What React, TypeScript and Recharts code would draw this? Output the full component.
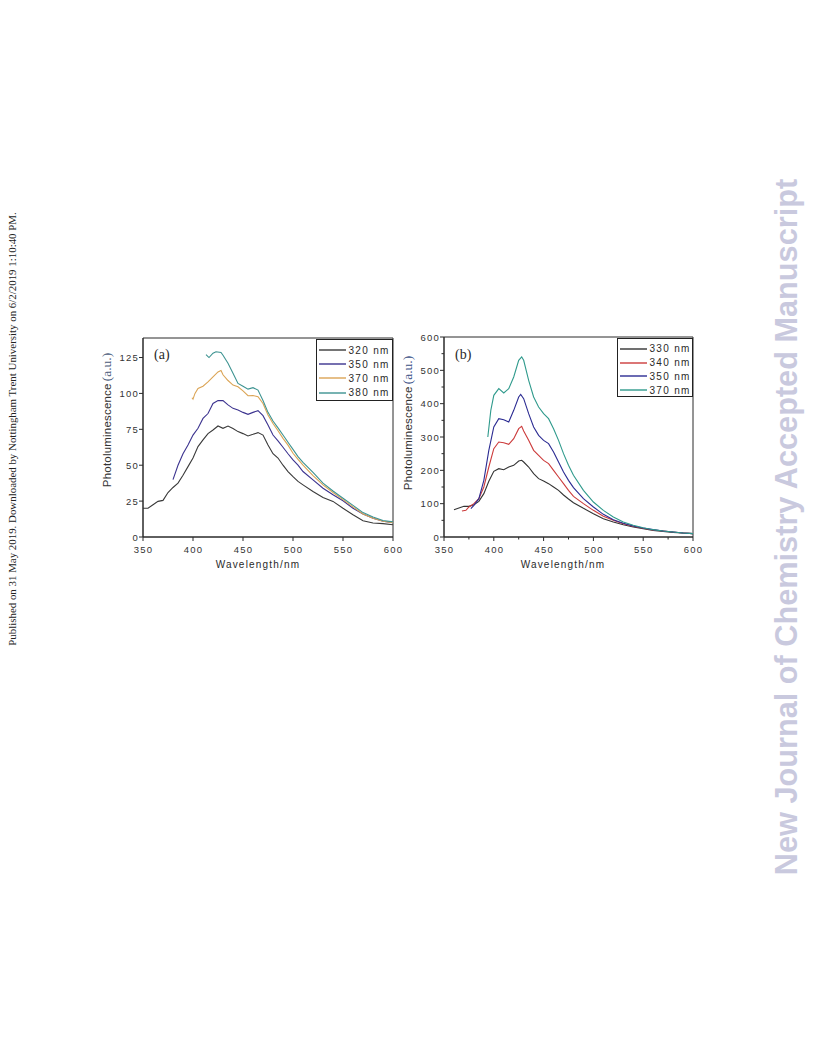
import React from "react";
import { LineChart, Line, XAxis, YAxis, ReferenceArea } from "recharts";

type Pt = [number, number];

// panel (a) – excitation 320/350/370/380 nm
const a320: Pt[] = [
  [350, 20], [355, 20], [360, 22.5], [365, 24.8], [370, 25.5], [375, 31], [380, 34.5], [385, 37.5],
  [390, 43], [395, 49], [400, 55], [405, 63], [410, 67.6], [415, 72], [420, 74.5], [425, 77.3],
  [430, 75.7], [435, 77.3], [440, 75.5], [445, 73.4], [450, 72], [455, 70.4], [460, 71.5], [465, 72.7],
  [470, 71], [475, 64], [480, 58], [485, 55], [490, 50], [495, 45.6], [500, 42], [505, 38.7],
  [510, 36.3], [520, 31.7], [530, 27.5], [540, 24.8], [550, 20], [560, 15.5], [570, 11.3],
  [580, 9.7], [590, 9.3], [600, 8.5],
];
const a350: Pt[] = [
  [380, 40], [385, 50], [390, 58], [395, 64], [400, 71], [405, 75.7], [410, 82.6], [415, 86],
  [420, 93], [425, 95], [430, 95], [435, 92], [440, 89.6], [445, 88.5], [450, 86.8], [455, 85.4],
  [460, 86.8], [465, 88], [470, 84.5], [475, 78], [480, 71], [485, 67], [490, 62.5], [495, 58],
  [500, 53.7], [505, 50], [510, 45.6], [520, 39.8], [530, 34], [540, 29.4], [550, 25.2], [560, 20],
  [570, 16], [580, 13], [590, 11], [600, 10],
];
const a370: Pt[] = [
  [399, 97], [400, 96], [402, 100], [405, 103.5], [410, 105], [415, 108], [420, 111.6], [425, 115],
  [428, 116], [430, 113], [435, 109], [440, 105.8], [445, 104.6], [450, 101.8], [455, 98.4],
  [460, 98.5], [465, 97.7], [470, 93], [475, 85], [480, 79], [485, 74], [490, 68.7], [495, 64],
  [500, 58.3], [505, 54], [510, 50], [520, 42.8], [530, 36.3], [540, 31], [550, 26], [560, 21],
  [570, 16], [580, 13], [590, 11], [600, 10],
];
const a380: Pt[] = [
  [413, 127], [416, 125], [420, 128], [423, 129], [428, 128.5], [430, 126.6], [435, 121], [440, 114],
  [445, 107], [450, 105], [455, 103], [460, 104], [465, 102.3], [470, 95], [475, 86.8], [480, 80.8],
  [485, 76], [490, 71], [495, 66], [500, 61], [505, 56], [510, 52], [520, 45], [530, 37.5],
  [540, 32], [550, 27], [560, 22], [570, 17], [580, 14], [590, 11.5], [600, 10.5],
];

// panel (b) – excitation 330/340/350/370 nm
const b330: Pt[] = [
  [360, 82], [365, 87], [370, 92], [375, 92], [380, 97], [385, 107], [390, 130], [395, 167],
  [400, 197], [405, 205], [410, 202], [415, 210], [420, 215], [425, 228], [428, 230], [430, 225],
  [435, 210], [440, 190], [445, 175], [450, 168], [455, 160], [460, 150], [465, 140], [470, 126],
  [475, 114], [480, 103], [490, 86], [500, 70], [510, 55], [520, 45], [530, 37], [540, 30],
  [550, 25], [560, 20], [570, 17], [580, 14], [590, 12], [600, 10],
];
const b340: Pt[] = [
  [368, 78], [372, 80], [375, 90], [380, 100], [385, 115], [390, 150], [395, 210], [400, 265],
  [405, 285], [410, 283], [415, 278], [420, 295], [425, 325], [428, 332], [430, 318], [435, 290],
  [440, 260], [445, 245], [450, 230], [455, 220], [460, 200], [465, 180], [470, 160], [475, 140],
  [480, 122], [490, 100], [500, 80], [510, 62], [520, 50], [530, 40], [540, 32], [550, 26],
  [560, 21], [570, 18], [580, 15], [590, 12], [600, 10],
];
const b350: Pt[] = [
  [377, 85], [380, 95], [385, 115], [390, 170], [395, 260], [400, 330], [405, 355], [410, 352],
  [415, 345], [420, 380], [425, 420], [427, 428], [430, 415], [435, 370], [440, 330], [445, 305],
  [450, 290], [455, 280], [460, 255], [465, 225], [470, 195], [475, 170], [480, 148], [490, 115],
  [500, 90], [510, 68], [520, 52], [530, 41], [540, 33], [550, 27], [560, 22], [570, 18],
  [580, 15], [590, 12], [600, 10],
];
const b370: Pt[] = [
  [394, 300], [397, 380], [400, 425], [405, 445], [410, 432], [413, 440], [415, 445], [420, 480],
  [425, 530], [428, 540], [430, 530], [435, 470], [440, 420], [445, 390], [450, 370], [455, 355],
  [460, 325], [465, 290], [470, 250], [475, 215], [480, 185], [490, 140], [500, 105], [510, 80],
  [520, 60], [530, 45], [540, 35], [550, 28], [560, 22], [570, 18], [580, 15], [590, 12], [600, 10],
];

const xLabels = [350, 400, 450, 500, 550, 600];
const bXTicks = [350, 375, 400, 425, 450, 475, 500, 525, 550, 575, 600];
const aYTicks = [0, 25, 50, 75, 100, 125];
const bYTicks = [0, 50, 100, 150, 200, 250, 300, 350, 400, 450, 500, 550, 600];
const bYLabels = [0, 100, 200, 300, 400, 500, 600];

const aLegend = ["320 nm", "350 nm", "370 nm", "380 nm"];
const bLegend = ["330 nm", "340 nm", "350 nm", "370 nm"];

const aColors = ["#3a3a3a", "#3c338f", "#dba455", "#3d9391"];
const bColors = ["#333333", "#cc3b3b", "#2b2b92", "#2f9a8c"];

const sans = "'Liberation Sans', Arial, sans-serif";
const serif = "'Liberation Serif', 'Times New Roman', serif";
const ink = "#2a2a2a";
const LS = 1.2;

const toRows = (pts: Pt[]) => pts.map(([x, y]) => ({ x, y }));

function XTick(props: any) {
  const { x, y, payload } = props;
  const major = xLabels.includes(payload.value);
  return (
    <g>
      <line x1={x} y1={y} x2={x} y2={y + (major ? 4 : 2.5)} stroke={ink} />
      {major && (
        <text x={x + LS / 2} y={y + 16} textAnchor="middle" fontSize={9.5} fontFamily={sans} fill="#333" letterSpacing={LS}>
          {payload.value}
        </text>
      )}
    </g>
  );
}

function makeYTick(labels: number[]) {
  return (props: any) => {
    const { x, y, payload } = props;
    const major = labels.includes(payload.value);
    return (
      <g>
        <line x1={x} y1={y} x2={x - (major ? 4 : 2.5)} y2={y} stroke={ink} />
        {major && (
          <text x={x - 4} y={y + 3.5} textAnchor="end" fontSize={9.5} fontFamily={sans} fill="#333" letterSpacing={LS}>
            {payload.value}
          </text>
        )}
      </g>
    );
  };
}

function LegendBox({ left, top, w, h, names, colors, rowH }: any) {
  return (
    <div
      style={{
        position: "absolute", left, top, width: w, height: h, border: "1px solid #222",
        background: "#fff", boxSizing: "border-box", paddingTop: 3,
      }}
    >
      {names.map((n: string, i: number) => (
        <div key={n} style={{ display: "flex", alignItems: "center", height: rowH }}>
          <svg width={30} height={4} style={{ display: "block" }}>
            <line x1={2} y1={2} x2={29} y2={2} stroke={colors[i]} strokeWidth={1.4} />
          </svg>
          <span style={{ marginLeft: 2, fontFamily: sans, fontSize: 10, color: ink, letterSpacing: 1.3 }}>{n}</span>
        </div>
      ))}
    </div>
  );
}

function YTitle({ cx, cy, blue }: { cx: number; cy: number; blue?: boolean }) {
  return (
    <div
      style={{
        position: "absolute", left: cx - 100, top: cy - 9, width: 200, height: 18, textAlign: "center",
        transform: "rotate(-90deg)", whiteSpace: "nowrap", lineHeight: "18px",
      }}
    >
      <span style={{ fontFamily: sans, fontSize: 11.5, color: "#333", letterSpacing: 0.2 }}>Photoluminescence</span>
      <span style={{ fontFamily: serif, fontSize: 13.5, color: blue ? "#3a4f86" : "#4a5a7a", marginLeft: 2 }}>(a.u.)</span>
    </div>
  );
}

function XTitle({ cx, top }: { cx: number; top: number }) {
  return (
    <div
      style={{
        position: "absolute", left: cx - 80, top, width: 160, textAlign: "center",
        fontFamily: sans, fontSize: 10, color: ink, letterSpacing: 1.2, lineHeight: "12px",
      }}
    >
      Wavelength/nm
    </div>
  );
}

export default function App() {
  const aSeries = [a320, a350, a370, a380];
  const bSeries = [b330, b340, b350, b370];
  return (
    <div style={{ position: "absolute", left: 0, top: 0, width: 816, height: 1056, background: "#fff", overflow: "hidden" }}>
      {/* left side stamp */}
      <div
        style={{
          position: "absolute", left: 12 - 250, top: 429 - 7, width: 500, height: 14, textAlign: "center",
          transform: "rotate(-90deg)", fontFamily: serif, fontSize: 10.9, color: "#222", whiteSpace: "nowrap", lineHeight: "14px",
        }}
      >
        Published on 31 May 2019. Downloaded by Nottingham Trent University on 6/2/2019 1:10:40 PM.
      </div>
      {/* right side watermark */}
      <div
        style={{
          position: "absolute", left: 787 - 400, top: 527 - 18, width: 800, height: 36, textAlign: "center",
          transform: "rotate(-90deg)", fontFamily: sans, fontWeight: "bold", fontSize: 30.7, color: "#c9c9de",
          whiteSpace: "nowrap", lineHeight: "36px",
        }}
      >
        New Journal of Chemistry Accepted Manuscript
      </div>

      {/* panel (a) */}
      <div style={{ position: "absolute", left: 95, top: 320 }}>
        <LineChart width={310} height={270} margin={{ top: 18, right: 12, bottom: 23, left: 8 }}>
          <XAxis
            type="number" dataKey="x" domain={[350, 600]} ticks={xLabels} allowDataOverflow
            stroke={ink} tickLine={false} tickSize={0} tickMargin={0} tick={<XTick />} height={30}
          />
          <YAxis
            type="number" dataKey="y" domain={[0, 138.6]} ticks={aYTicks} allowDataOverflow
            stroke={ink} tickLine={false} tickSize={0} tickMargin={0} tick={makeYTick(aYTicks)} width={40}
          />
          <ReferenceArea x1={350} x2={600} y1={0} y2={138.6} fill="none" stroke={ink} strokeWidth={1} />
          {aSeries.map((s, i) => (
            <Line
              key={aLegend[i]} data={toRows(s)} dataKey="y" type="linear" stroke={aColors[i]}
              strokeWidth={1.1} dot={false} isAnimationActive={false}
            />
          ))}
        </LineChart>
      </div>
      <LegendBox left={315.5} top={339} w={77} h={61.5} names={aLegend} colors={aColors} rowH={14.2} />
      <div style={{ position: "absolute", left: 154, top: 347, fontFamily: serif, fontSize: 14, color: ink }}>(a)</div>
      <YTitle cx={106} cy={420} />
      <XTitle cx={258} top={559} />

      {/* panel (b) */}
      <div style={{ position: "absolute", left: 396, top: 320 }}>
        <LineChart width={310} height={270} margin={{ top: 17, right: 13, bottom: 23, left: 8 }}>
          <XAxis
            type="number" dataKey="x" domain={[350, 600]} ticks={bXTicks} allowDataOverflow interval={0}
            stroke={ink} tickLine={false} tickSize={0} tickMargin={0} tick={<XTick />} height={30}
          />
          <YAxis
            type="number" dataKey="y" domain={[0, 600]} ticks={bYTicks} allowDataOverflow interval={0}
            stroke={ink} tickLine={false} tickSize={0} tickMargin={0} tick={makeYTick(bYLabels)} width={40}
          />
          <ReferenceArea x1={350} x2={600} y1={0} y2={600} fill="none" stroke={ink} strokeWidth={1} />
          {bSeries.map((s, i) => (
            <Line
              key={bLegend[i]} data={toRows(s)} dataKey="y" type="linear" stroke={bColors[i]}
              strokeWidth={1.1} dot={false} isAnimationActive={false}
            />
          ))}
        </LineChart>
      </div>
      <LegendBox left={616.5} top={338} w={76} h={59} names={bLegend} colors={bColors} rowH={13.8} />
      <div style={{ position: "absolute", left: 455, top: 347, fontFamily: serif, fontSize: 14, color: ink }}>(b)</div>
      <YTitle cx={407} cy={423} blue />
      <XTitle cx={563} top={559} />
    </div>
  );
}
